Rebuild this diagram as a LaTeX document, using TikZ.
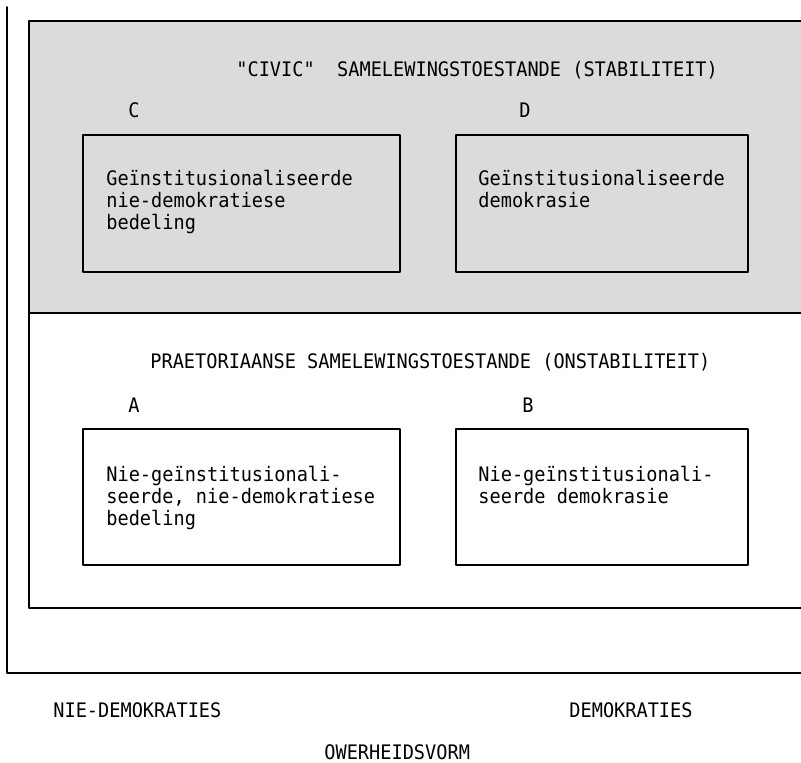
\documentclass[tikz,border=0pt]{standalone}
\usepackage{fontspec}
\setmonofont[FakeStretch=0.93]{DejaVu Sans Mono}
\begin{document}
\begin{tikzpicture}[x=0.5pt,y=-0.5pt,line cap=round,line join=round,
  txt/.style={font=\ttfamily\fontsize{10}{10.9}\selectfont,inner sep=0pt},
  lefttxt/.style={txt,anchor=base west,align=left},
  midtxt/.style={txt,anchor=base},
  frameline/.style={line width=0.9pt}]
  \clip (0,0) rectangle (801,762);
  \fill[white] (0,0) rectangle (801,762);
  % stable (shaded) and unstable regions
  \fill[black!14] (29,21) rectangle (812,313);
  \draw[frameline] (812,21) -- (29,21) -- (29,608) -- (812,608);
  \draw[frameline] (29,313) -- (812,313);
  \draw[frameline] (7,7) -- (7,673) -- (812,673);
  % the four boxes
  \draw[frameline] (83,135) rectangle (400,272);
  \draw[frameline] (456,135) rectangle (748,272);
  \draw[frameline] (83,429) rectangle (400,565);
  \draw[frameline] (456,429) rectangle (748,565);
  \node[lefttxt] (civic) at (236,76) {"CIVIC"\ \ SAMELEWINGSTOESTANDE (STABILITEIT)};
  \node[midtxt] (labC) at (134,117) {C};
  \node[midtxt] (labD) at (525,117) {D};
  \node[lefttxt] (txtC) at (106,229) {Geïnstitusionaliseerde\\nie-demokratiese\\bedeling};
  \node[lefttxt] (txtD) at (478,207) {Geïnstitusionaliseerde\\demokrasie};
  \node[lefttxt] (praet) at (150,368) {PRAETORIAANSE SAMELEWINGSTOESTANDE (ONSTABILITEIT)};
  \node[midtxt] (labA) at (134,412) {A};
  \node[midtxt] (labB) at (528,412) {B};
  \node[lefttxt] (txtA) at (106,525) {Nie-geïnstitusionali-\\seerde, nie-demokratiese\\bedeling};
  \node[lefttxt] (txtB) at (478,503) {Nie-geïnstitusionali-\\seerde demokrasie};
  \node[lefttxt] (niedem) at (53,717) {NIE-DEMOKRATIES};
  \node[lefttxt] (dem) at (569,717) {DEMOKRATIES};
  \node[lefttxt] (owerheid) at (324,759) {OWERHEIDSVORM};
\end{tikzpicture}
\end{document}
